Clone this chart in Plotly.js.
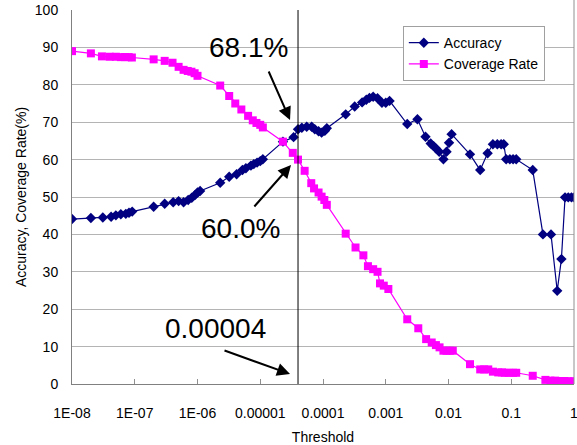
<!DOCTYPE html>
<html>
<head>
<meta charset="utf-8">
<script src="https://cdn.plot.ly/plotly-3.0.1.min.js"></script>
<style>html,body{margin:0;padding:0;background:#fff;}#chart{width:577px;height:445px;}</style>
</head>
<body>
<div id="chart"></div>
<script>
// Accuracy series
const accThreshold = [1e-8, 2e-8, 3.1e-8, 4.2e-8, 5e-8, 6e-8, 7.2e-8, 8.1e-8, 9.1e-8,
  2e-7, 3e-7, 4.1e-7, 5e-7, 6e-7, 7.1e-7, 8.1e-7, 9.1e-7, 1e-6, 1.1e-6,
  2.3e-6, 3.2e-6, 4.2e-6, 5.2e-6, 5.9e-6, 7.1e-6, 7.9e-6, 8.9e-6, 1e-5, 1.1e-5,
  2.3e-5, 3.4e-5, 4e-5, 4.6e-5, 5.5e-5, 6.6e-5, 7.4e-5, 8.5e-5, 9.5e-5, 1.07e-4, 1.15e-4,
  2.3e-4, 3.2e-4, 4.2e-4, 4.9e-4, 5.5e-4, 6.3e-4, 7.4e-4, 8.7e-4, 1e-3, 1.15e-3,
  2.2e-3, 3.2e-3, 4.3e-3, 5.2e-3, 5.8e-3, 6.3e-3, 7.1e-3, 8.3e-3, 9.3e-3, 1.02e-2, 1.12e-2,
  2.2e-2, 3.2e-2, 4.2e-2, 5.1e-2, 6e-2, 6.9e-2, 7.6e-2, 8.3e-2, 9.5e-2, 0.107, 0.12,
  0.22, 0.32, 0.43, 0.54, 0.63, 0.72, 0.81, 0.91, 1.0];
const accuracy = [44.1, 44.4, 44.5, 44.7, 45.1, 45.4, 45.5, 45.8, 46.1,
  47.4, 48.2, 48.6, 48.9, 48.6, 49.2, 49.8, 50.5, 51.2, 51.6,
  53.8, 55.4, 56.1, 57.2, 57.7, 58.4, 58.8, 59.2, 59.6, 60.1,
  64.8, 66.0, 68.1, 68.5, 68.8, 68.8, 68.1, 67.6, 67.2, 67.7, 68.4,
  72.1, 74.2, 75.3, 76.0, 76.5, 76.8, 76.4, 75.2, 75.2, 75.7,
  69.5, 70.8, 66.1, 64.3, 63.6, 63.0, 62.1, 60.1, 62.1, 64.5, 66.8,
  61.4, 57.2, 61.7, 64.1, 64.1, 64.1, 64.1, 60.1, 60.1, 60.1, 60.1,
  57.2, 40.0, 40.0, 24.9, 33.4, 49.9, 49.9, 49.9, 49.9];

// Coverage Rate series
const covThreshold = [1e-8, 2e-8, 3e-8, 4e-8, 5e-8, 6e-8, 7e-8, 8e-8, 9e-8,
  2e-7, 3e-7, 4e-7, 5e-7, 6e-7, 7e-7, 8e-7, 9e-7, 1e-6,
  2.3e-6, 3.2e-6, 4e-6, 5e-6, 6.4e-6, 7.6e-6, 8.7e-6, 1e-5, 1.1e-5,
  2.3e-5, 3.3e-5, 4e-5, 5.1e-5, 6.5e-5, 7.2e-5, 8.5e-5, 9.5e-5, 1.05e-4, 1.15e-4,
  2.3e-4, 3.3e-4, 4.4e-4, 5.2e-4, 6.3e-4, 7.4e-4, 8.1e-4, 9.3e-4, 1.1e-3,
  2.2e-3, 3.3e-3, 4.4e-3, 5.4e-3, 6.3e-3, 7.2e-3, 8.3e-3, 9.3e-3, 1.05e-2, 1.17e-2,
  2.2e-2, 3.2e-2, 3.7e-2, 4.3e-2, 5.1e-2, 6.2e-2, 7.1e-2, 7.9e-2, 9.1e-2, 0.107, 0.12,
  0.22, 0.35, 0.42, 0.5, 0.6, 0.7, 0.8, 0.9, 1.0];
const coverage = [89.0, 88.4, 87.6, 87.5, 87.5, 87.4, 87.4, 87.4, 87.3,
  86.8, 86.4, 85.9, 84.8, 84.0, 83.7, 83.5, 83.1, 82.4,
  79.8, 77.0, 75.0, 73.4, 71.7, 70.5, 69.8, 69.3, 68.6,
  64.8, 61.8, 60.0, 57.0, 53.7, 52.3, 51.2, 50.1, 49.2, 47.9,
  40.2, 36.5, 34.4, 31.5, 30.7, 30.0, 26.9, 26.3, 25.4,
  17.3, 14.9, 12.0, 11.1, 10.4, 9.8, 8.9, 8.9, 8.9, 8.9,
  5.3, 3.9, 3.9, 3.9, 3.3, 3.1, 3.1, 3.0, 3.0, 3.0, 3.0,
  2.2, 1.1, 0.9, 0.9, 0.8, 0.8, 0.7, 0.7, 0.7];

// Marked threshold (vertical line)
const markThreshold = [4e-5, 4e-5];
const markLineY = [0, 100];

// Axis ticks
const xTickVals = [1e-8, 1e-7, 1e-6, 1e-5, 1e-4, 1e-3, 1e-2, 1e-1, 1];
const xTickText = ["1E-08", "1E-07", "1E-06", "0.00001", "0.0001", "0.001", "0.01", "0.1", "1"];
const yTickVals = [0, 10, 20, 30, 40, 50, 60, 70, 80, 90, 100];

const FONT = "Liberation Sans, Arial, sans-serif";

const traces = [
  {
    x: accThreshold, y: accuracy, name: "Accuracy", type: "scatter", mode: "lines+markers",
    line: {color: "#000080", width: 1.2},
    marker: {symbol: "diamond", size: 8, color: "#000080"}
  },
  {
    x: covThreshold, y: coverage, name: "Coverage Rate", type: "scatter", mode: "lines+markers",
    line: {color: "#FF00FF", width: 1.2},
    marker: {symbol: "square", size: 8, color: "#FF00FF"}
  },
  {
    x: markThreshold, y: markLineY, type: "scatter", mode: "lines", showlegend: false,
    hoverinfo: "skip", line: {color: "#000000", width: 1}
  }
];

const layout = {
  width: 577, height: 445,
  margin: {l: 72, r: 3, t: 10, b: 61},
  paper_bgcolor: "#ffffff", plot_bgcolor: "#ffffff",
  font: {family: FONT, size: 14, color: "#000"},
  showlegend: true,
  legend: {
    x: 0.659, y: 0.957, xanchor: "left", yanchor: "top",
    bgcolor: "#ffffff", bordercolor: "#a0a0a0", borderwidth: 1,
    font: {family: FONT, size: 14, color: "#000"},
    tracegroupgap: 0
  },
  xaxis: {
    type: "log", range: [-8, 0],
    tickvals: xTickVals, ticktext: xTickText,
    ticks: "inside", ticklen: 5, tickcolor: "#909090",
    showgrid: false, zeroline: false,
    showline: true, linecolor: "#808080", linewidth: 1,
    ticklabelstandoff: 16, ticklabeloverflow: "allow",
    tickfont: {family: FONT, size: 14, color: "#000"},
    title: {text: "Threshold", font: {family: FONT, size: 14, color: "#000"}, standoff: 12},
    automargin: false
  },
  yaxis: {
    range: [0, 100], tickvals: yTickVals,
    showgrid: true, gridcolor: "#b4b4b4", gridwidth: 1,
    zeroline: false, showline: true, linecolor: "#808080", linewidth: 1,
    ticks: "", ticklabelstandoff: 10,
    tickfont: {family: FONT, size: 14, color: "#000"},
    title: {text: "Accuracy, Coverage Rate(%)", font: {family: FONT, size: 14, color: "#000"}, standoff: 4},
    automargin: false
  },
  shapes: [
    {type: "line", xref: "paper", yref: "paper", x0: 1, x1: 1, y0: 0, y1: 1.03,
     line: {color: "#909090", width: 1}}
  ],
  annotations: [
    {xref: "paper", yref: "paper", x: 0.3506, y: 0.8984, text: "68.1%", showarrow: false,
     font: {family: FONT, size: 28, color: "#000"}, xanchor: "center", yanchor: "middle"},
    {xref: "paper", yref: "paper", x: 0.3357, y: 0.4171, text: "60.0%", showarrow: false,
     font: {family: FONT, size: 28, color: "#000"}, xanchor: "center", yanchor: "middle"},
    {xref: "paper", yref: "paper", x: 0.2849, y: 0.1497, text: "0.00004", showarrow: false,
     font: {family: FONT, size: 28, color: "#000"}, xanchor: "center", yanchor: "middle"},
    {xref: "paper", yref: "paper", x: 0.4343, y: 0.7059, text: "", showarrow: true,
     ax: -22, ay: -50, arrowhead: 2, arrowsize: 1.3, arrowwidth: 2, arrowcolor: "#000"},
    {xref: "paper", yref: "paper", x: 0.4363, y: 0.5856, text: "", showarrow: true,
     ax: -38, ay: 43, arrowhead: 2, arrowsize: 1.3, arrowwidth: 2, arrowcolor: "#000"},
    {xref: "paper", yref: "paper", x: 0.4343, y: 0.0267, text: "", showarrow: true,
     ax: -67, ay: -24, arrowhead: 2, arrowsize: 1.3, arrowwidth: 2, arrowcolor: "#000"}
  ]
};

Plotly.newPlot("chart", traces, layout, {displayModeBar: false, staticPlot: true});
</script>
</body>
</html>
